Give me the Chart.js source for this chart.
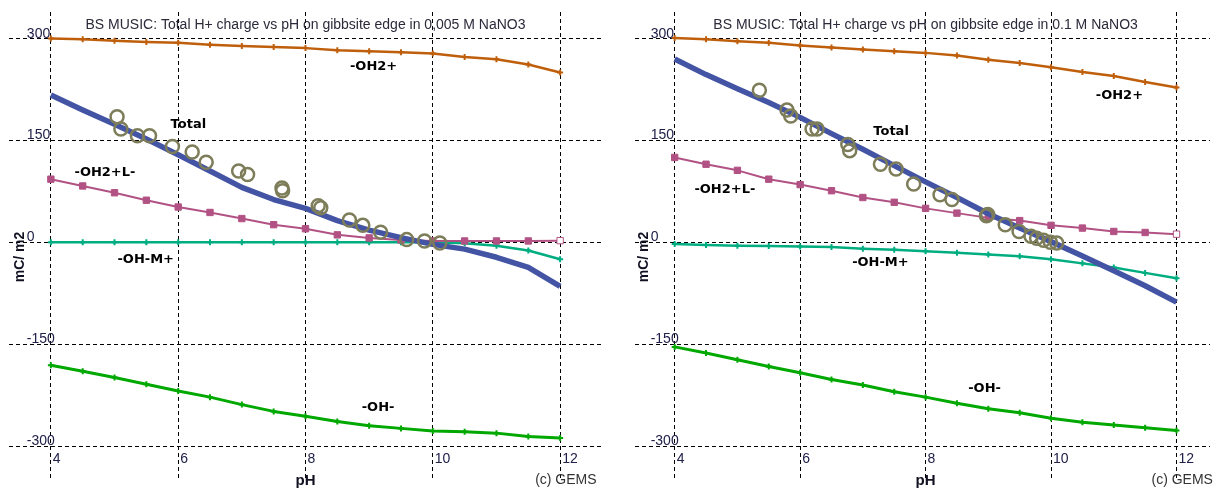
<!DOCTYPE html>
<html><head><meta charset="utf-8">
<script src="https://cdn.jsdelivr.net/npm/chart.js@4.4.1/dist/chart.umd.min.js"></script>
<style>
html,body{margin:0;padding:0;background:#fff;overflow:hidden;width:1219px;height:490px;}
#c1{position:absolute;left:0;top:0;}
#c2{position:absolute;left:610px;top:0;}
</style></head><body>
<canvas id="c1" width="610" height="490"></canvas>
<canvas id="c2" width="609" height="490"></canvas>
<script>
// ---------- data ----------
const pH = [4,4.5,5,5.5,6,6.5,7,7.5,8,8.5,9,9.5,10,10.5,11,11.5,12];
const xTicks = [4,6,8,10,12];
const yTicks = [-300,-150,0,150,300];
const seriesNames = ['-OH2+','Total','-OH2+L-','-OH-M+','-OH-'];

// left panel: 0,005 M NaNO3
const titleA = 'BS MUSIC: Total H+ charge vs pH on gibbsite edge in 0,005 M NaNO3';
const oh2A   = [300,299,297,295,294,291,289,287.5,286,283,281.5,280,278,273,269.5,262,250];
const totalA = [217,195,174,152,129,105,81,63,50,32,18,7,-3,-10,-22,-37,-65];
const oh2lA  = [93,83,73,62,52,44,35,26,20,11,6.5,3.5,2,2,2,2,2.5];
const ohmA   = [0,0,0,0,0,0,0,0,0,0,0,0,0,-1.5,-5,-12,-25];
const ohA    = [-181,-190,-199,-209,-219,-228,-239,-249,-256,-264,-270,-274,-278,-279,-281,-286,-288];
const expXA  = [5.04,5.10,5.36,5.55,5.91,6.22,6.44,6.95,7.09,7.63,7.64,8.20,8.24,8.69,8.90,9.18,9.59,9.87,10.11];
const expYA  = [185,167,157,157,141,133,118,105,100,80,76,54,51,33,25,15,4,2,-1];
const labelXA = [9.07,6.16,4.85,5.49,9.14];
const labelYA = [259,174,103,-25,-243];

// right panel: 0.1 M NaNO3
const titleB = 'BS MUSIC: Total H+ charge vs pH on gibbsite edge in 0.1 M NaNO3';
const oh2B   = [301,299,296,294,290,287,284,281.5,279,275,269,264,258,251,245,236,228];
const totalB = [270,247,226,206,184,160,137,113,89,66,42,21,1,-20,-42,-64,-88];
const oh2lB  = [125,115,106,93,85,76,66,59,50,43,36,32,25,21,16,14.5,12];
const ohmB   = [-2.5,-4,-5,-5.5,-6,-7,-9.5,-11,-13,-15.5,-18,-20.5,-25,-31,-37,-45,-53];
const ohB    = [-154,-163,-173,-183,-192,-202,-210,-220,-228,-237,-245,-251,-259,-265,-269,-273,-277];
const expXB  = [5.35,5.79,5.85,6.19,6.27,6.76,6.79,7.28,7.53,7.81,8.23,8.42,8.97,8.99,9.27,9.49,9.68,9.77,9.88,9.99,10.09];
const expYB  = [224,195,186,167,167,144,135,115,108,86,70,63,39,41,26,16,9,6,3,0,-1];
const labelXB = [11.09,7.45,4.80,7.28,8.94];
const labelYB = [216,163,77,-30,-215];

// ---------- drawing ----------
const gemsText = {
  id: 'gemsText',
  afterDraw(chart, args, o) {
    const {ctx} = chart; const x = chart.scales.x, y = chart.scales.y;
    ctx.save();
    ctx.textBaseline = 'alphabetic';
    // title
    ctx.font = '14px "Liberation Sans", Arial, sans-serif';
    ctx.fillStyle = '#2a2a3a'; ctx.textAlign = 'center';
    ctx.fillText(o.title, x.getPixelForValue(8), 29);
    // y tick labels
    ctx.font = '14px "Liberation Sans", Arial, sans-serif';
    ctx.fillStyle = '#20204a'; ctx.textAlign = 'left';
    const x0 = x.getPixelForValue(xTicks[0]);
    yTicks.forEach(v => ctx.fillText(String(v), x0 - 24, y.getPixelForValue(v) - 1));
    // x tick labels
    const yb = y.getPixelForValue(yTicks[0]);
    xTicks.forEach(v => ctx.fillText(String(v), x.getPixelForValue(v) + 2, yb + 16.5));
    // x title
    ctx.font = 'bold 15px "Liberation Sans", Arial, sans-serif';
    ctx.fillStyle = '#111122'; ctx.textAlign = 'center';
    ctx.fillText('pH', x.getPixelForValue(8), 485);
    // copyright
    ctx.font = '14px "Liberation Sans", Arial, sans-serif';
    ctx.fillStyle = '#333'; ctx.textAlign = 'left';
    ctx.fillText('(c) GEMS', x.getPixelForValue(12) - 25, 484);
    // y title
    ctx.save();
    ctx.translate(x0 - 31, 257); ctx.rotate(-Math.PI / 2);
    ctx.font = 'bold 14px "Liberation Sans", Arial, sans-serif';
    ctx.fillStyle = '#111122'; ctx.textAlign = 'center'; ctx.textBaseline = 'middle';
    ctx.fillText('mC/ m2', 0, 0);
    ctx.restore();
    // series labels
    ctx.font = 'bold 13px "DejaVu Sans", sans-serif';
    ctx.fillStyle = '#000'; ctx.textAlign = 'center'; ctx.textBaseline = 'middle';
    seriesNames.forEach((n, i) => ctx.fillText(n, x.getPixelForValue(o.lx[i]), y.getPixelForValue(o.ly[i])));
    ctx.restore();
  }
};

function pts(ys) { return pH.map((x, i) => ({x: x, y: ys[i]})); }

function makeChart(id, d, pad, xmin, xmax) {
  const pink = '#b25284';
  const axis = (ticks, min, max) => ({
    type: 'linear', min: min, max: max,
    afterBuildTicks: s => { s.ticks = ticks.map(v => ({value: v})); },
    ticks: {display: false},
    grid: {color: '#000', lineWidth: 1, drawTicks: false},
    border: {display: false, dash: [4, 3]}
  });
  return new Chart(document.getElementById(id), {
    type: 'line',
    data: {datasets: [
      {label: 'exp', data: d.ex.map((x, i) => ({x: x, y: d.ey[i]})), showLine: false,
       pointStyle: 'circle', pointRadius: 6.5, pointBorderWidth: 2.5, borderColor: '#7d7d5a',
       pointBackgroundColor: 'rgba(0,0,0,0)', backgroundColor: 'rgba(0,0,0,0)', order: 0},
      {label: seriesNames[1], data: pts(d.total), borderColor: '#4454a4', borderWidth: 5.5,
       pointRadius: 0, order: 1},
      {label: seriesNames[0], data: pts(d.oh2), borderColor: '#bf5f0c', borderWidth: 2.5,
       pointStyle: 'cross', pointRadius: 3, pointBorderWidth: 2, order: 2},
      {label: seriesNames[2], data: pts(d.oh2l), borderColor: pink, borderWidth: 2,
       pointStyle: 'rect', pointRadius: 4.5, pointBorderWidth: 1,
       pointBackgroundColor: c => c.dataIndex === pH.length - 1 ? '#fff' : pink, order: 3},
      {label: seriesNames[3], data: pts(d.ohm), borderColor: '#00ad80', borderWidth: 2.5,
       pointStyle: 'cross', pointRadius: 3, pointBorderWidth: 2, order: 4},
      {label: seriesNames[4], data: pts(d.oh), borderColor: '#00a800', borderWidth: 3,
       pointStyle: 'cross', pointRadius: 3, pointBorderWidth: 2, order: 5}
    ]},
    options: {
      responsive: false, animation: false, devicePixelRatio: 1, events: [],
      layout: {padding: pad},
      elements: {line: {tension: 0, borderJoinStyle: 'round'}},
      plugins: {legend: {display: false}, tooltip: {enabled: false},
        gemsText: {title: d.title, lx: d.lx, ly: d.ly}},
      scales: {
        x: axis(xTicks, xmin, xmax),
        y: axis(yTicks, -351.5, 339.2)
      }
    },
    plugins: [gemsText]
  });
}

makeChart('c1', {title: titleA, oh2: oh2A, total: totalA, oh2l: oh2lA, ohm: ohmA, oh: ohA,
  ex: expXA, ey: expYA, lx: labelXA, ly: labelYA},
  {left: 8, right: 8, top: 12, bottom: 2}, 3.3425, 12.642);
makeChart('c2', {title: titleB, oh2: oh2B, total: totalB, oh2l: oh2lB, ohm: ohmB, oh: ohB,
  ex: expXB, ey: expYB, lx: labelXB, ly: labelYB},
  {left: 25, right: 0, top: 12, bottom: 2}, 3.3675, 12.534);
</script>
</body></html>
